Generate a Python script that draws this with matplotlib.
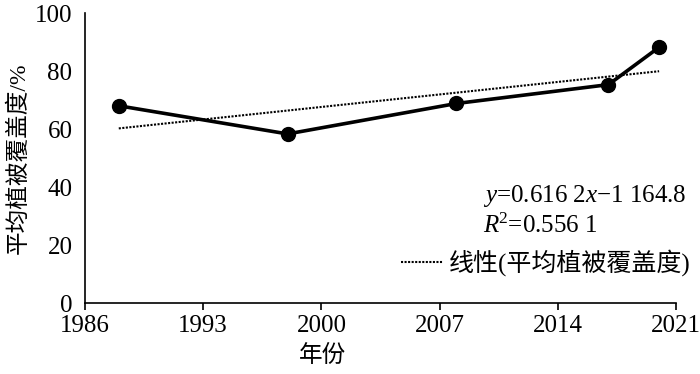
import matplotlib.pyplot as plt
import numpy as np

plt.rcParams['font.family'] = ['Liberation Serif', 'Noto Sans CJK SC', 'DejaVu Sans']
plt.rcParams['mathtext.fontset'] = 'custom'
plt.rcParams['mathtext.rm'] = 'Liberation Serif'
plt.rcParams['mathtext.it'] = 'Liberation Serif:italic'

# data
years = [1988, 1998, 2008, 2017, 2020]
cover = [68, 58.3, 68.8, 75.3, 88.2]
slope = 0.6162
intercept = -1164.8
r2 = 0.5561
xticks = [1986, 1993, 2000, 2007, 2014, 2021]
yticks = [0, 20, 40, 60, 80, 100]

fig = plt.figure(figsize=(7, 3.74), dpi=100)
ax = fig.add_axes([85/700, 1-303/374, (676-85)/700, (303-13)/374])

trend_x = np.array([years[0], years[-1]])
trend_y = slope*trend_x + intercept
trend, = ax.plot(trend_x, trend_y, color='black', linestyle=(0, (1, 0.7)), linewidth=1.5,
                 label='线性(平均植被覆盖度)')
ax.plot(years, cover, color='black', linewidth=2.6, marker='o', markersize=10)

ax.set_xlim(1986, 2021)
ax.set_ylim(0, 100)
ax.set_xticks(xticks)
ax.set_yticks(yticks)
ax.spines['top'].set_visible(False)
ax.spines['right'].set_visible(False)
ax.spines['left'].set_linewidth(1.2)
ax.spines['bottom'].set_linewidth(1.2)
ax.tick_params(axis='x', direction='out', length=5, width=1.2, labelsize=18, pad=4)
ax.tick_params(axis='y', length=0, labelsize=18, pad=9)

ax.set_xlabel('年份', fontsize=17)
ax.xaxis.set_label_coords((322-85)/591, -0.145)
ax.set_ylabel('平均植被覆盖度/%', fontsize=17, labelpad=4)

ax.text(0.673, 0.369, r'$y$=0.616 2$x$−1 164.8', transform=ax.transAxes,
        fontsize=18, va='center')
ax.text(0.673, 0.266, r'$R$$^2$=0.556 1', transform=ax.transAxes,
        fontsize=18, va='center')
ax.legend(handles=[trend], loc='center right', bbox_to_anchor=(1.024, 0.138), frameon=False,
          fontsize=18, handlelength=1.7, handletextpad=0.2, borderaxespad=0, borderpad=0)

fig.savefig('out.png', dpi=100)
